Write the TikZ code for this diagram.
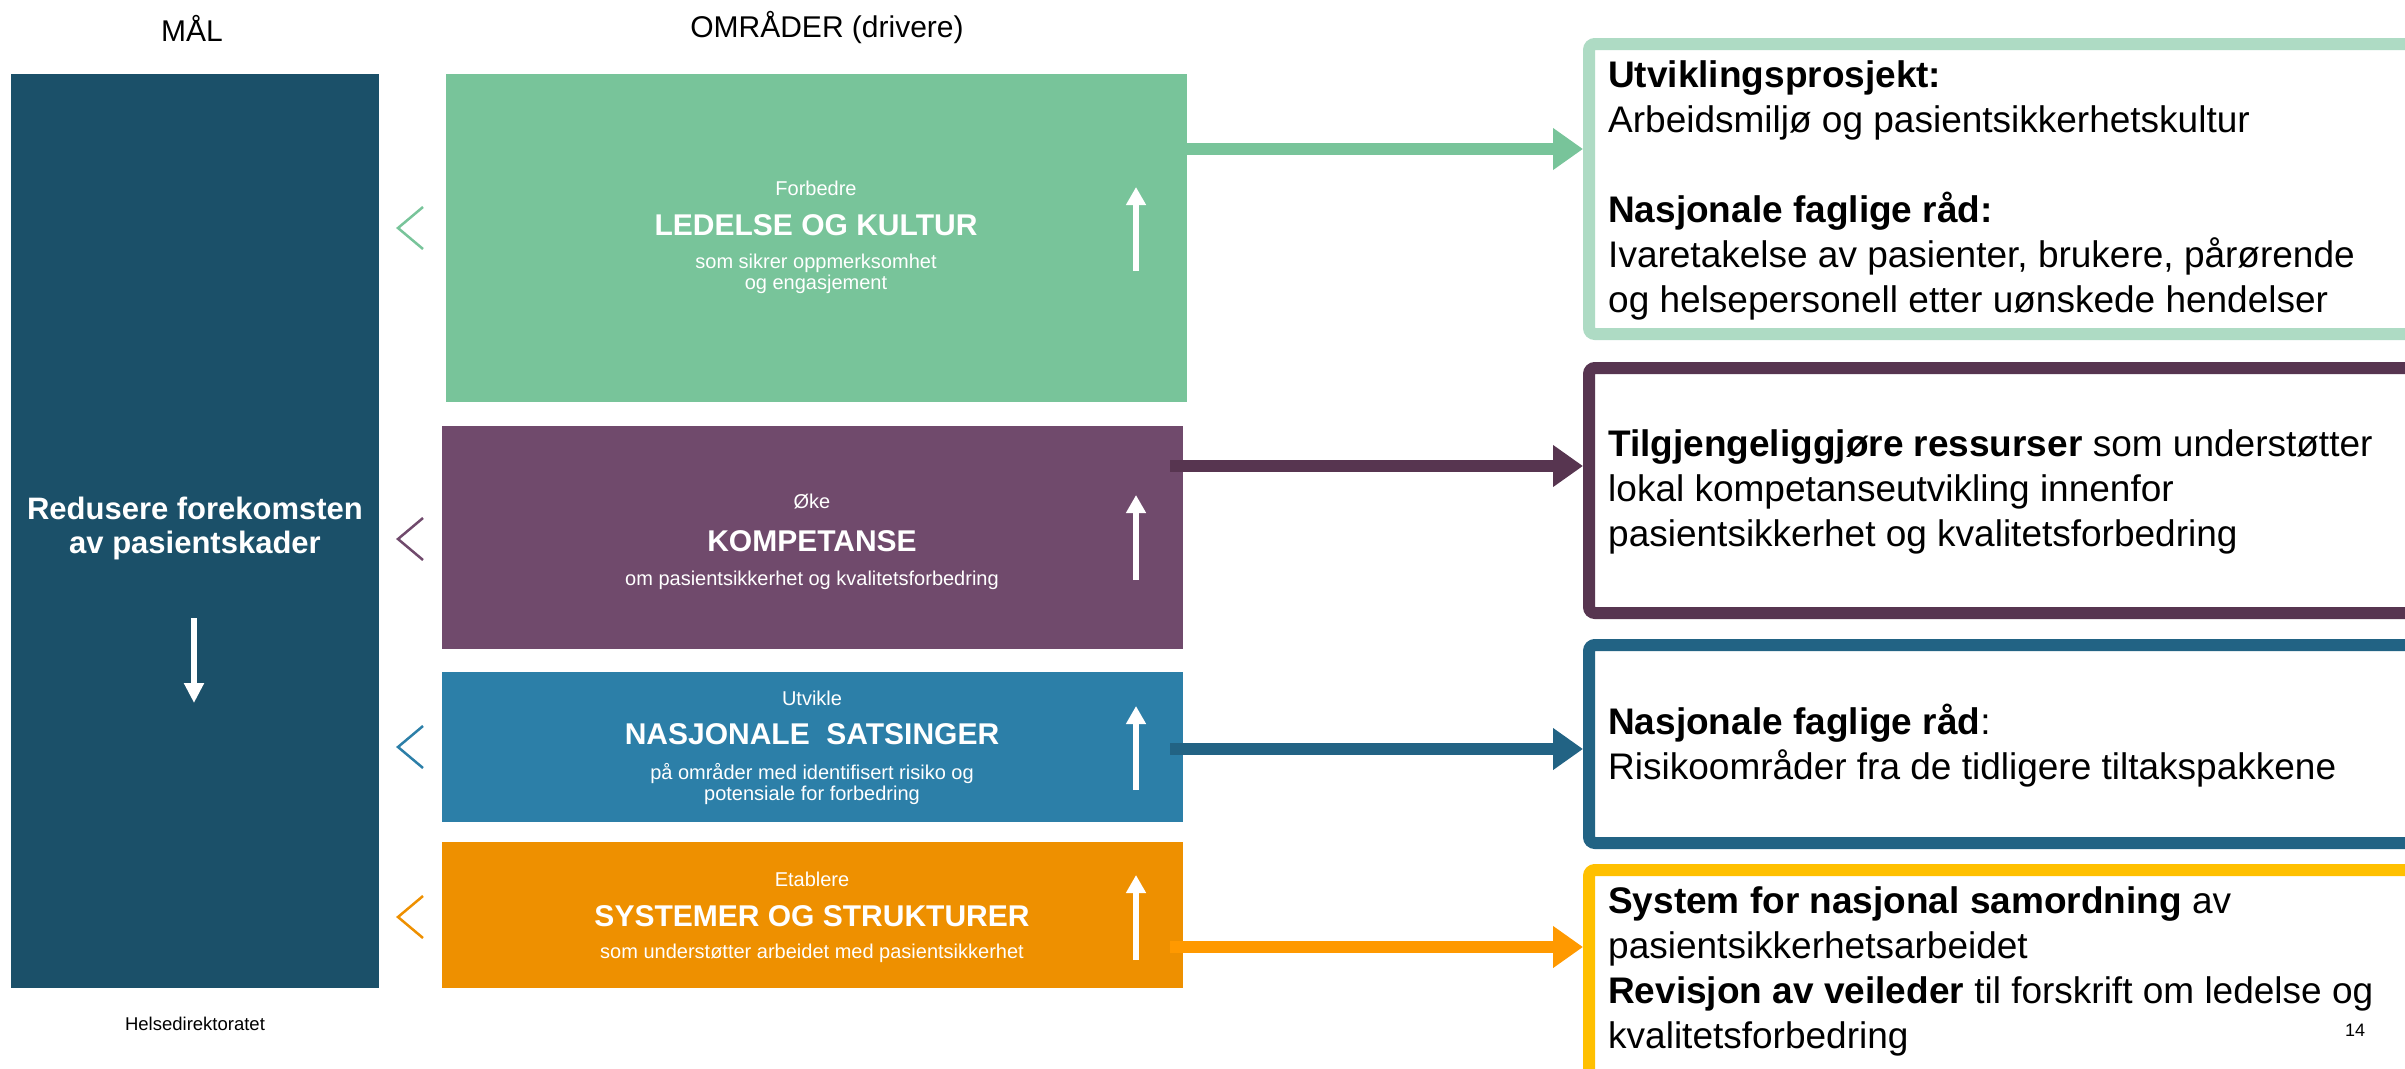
\documentclass[tikz,border=0pt]{standalone}
\usepackage{fontspec}
\setmainfont{Liberation Sans}
\usepackage{tikz}
\usetikzlibrary{arrows.meta,calc}

\definecolor{goalcol}{HTML}{1B5069}
\definecolor{leadcol}{HTML}{78C49A}
\definecolor{compcol}{HTML}{704A6C}
\definecolor{natcol}{HTML}{2C7FA8}
\definecolor{syscol}{HTML}{EE9000}
\definecolor{leadline}{HTML}{AEDBC4}
\definecolor{compline}{HTML}{573550}
\definecolor{natline}{HTML}{226384}
\definecolor{sysline}{HTML}{FFC000}
\definecolor{sysarrow}{HTML}{FF9900}

\tikzset{
  fillbox/.style={inner sep=0pt, outer sep=0pt, minimum width=741pt},
  outbox/.style={draw, line width=12pt, rounded corners=6pt, fill=white,
    inner sep=0pt, minimum width=825pt},
  linkarrow/.style={line width=12pt, -{Triangle[length=30pt,width=40pt]}},
  whitearrow/.style={white, line width=6pt, -{Triangle[length=18pt,width=19pt]}},
  chevron/.style={line width=2.5pt},
  verb/.style={white, font=\fontsize{20}{22}\selectfont},
  title/.style={white, font=\fontsize{30}{34}\selectfont\bfseries},
  sub/.style={white, align=center, font=\fontsize{20}{21}\selectfont},
  outtext/.style={anchor=west, align=left, inner sep=0pt, font=\fontsize{37}{45}\selectfont},
}

\begin{document}
\begin{tikzpicture}[x=1pt,y=-1pt]
\path[use as bounding box] (0,0) rectangle (2405,1068);
\clip (0,0) rectangle (2405,1068);

% Headings
\node[font=\fontsize{30}{34}\selectfont] (mal) at (192,28) {MÅL};
\node[font=\fontsize{30}{34}\selectfont] (omr) at (827,28) {OMRÅDER (drivere)};

% Goal
\node[fillbox, fill=goalcol, minimum width=368pt, minimum height=914pt] (goal) at (195,531) {};
\node[white, align=center, font=\fontsize{31}{34}\selectfont\bfseries] (goaltext) at (195,528)
  {Redusere forekomsten\\av pasientskader};
\draw[whitearrow, -{Triangle[length=20pt,width=19pt]}] (194,618) -- (194,703);
\node[font=\fontsize{18.5}{20}\selectfont] (foot) at (195,1024) {Helsedirektoratet};

% Drivers
\node[fillbox, fill=leadcol, minimum height=328pt] (lead) at (816.5,238) {};
\node[fillbox, fill=compcol, minimum height=223pt] (comp) at (812.5,537.5) {};
\node[fillbox, fill=natcol, minimum height=150pt] (nat) at (812.5,747) {};
\node[fillbox, fill=syscol, minimum height=146pt] (sys) at (812.5,915) {};

\node[verb] (leadverb) at (816,188) {Forbedre};
\node[title] (leadtitle) at (816,225) {LEDELSE OG KULTUR};
\node[sub] (leadsub) at (816,274) {som sikrer oppmerksomhet\\og engasjement};

\node[verb] (compverb) at (812,502) {Øke};
\node[title] (comptitle) at (812,541) {KOMPETANSE};
\node[sub] (compsub) at (812,580) {om pasientsikkerhet og kvalitetsforbedring};

\node[verb] (natverb) at (812,698) {Utvikle};
\node[title] (nattitle) at (812,734) {NASJONALE \ SATSINGER};
\node[sub] (natsub) at (812,784) {på områder med identifisert risiko og\\potensiale for forbedring};

\node[verb] (sysverb) at (812,879) {Etablere};
\node[title] (systitle) at (812,916) {SYSTEMER OG STRUKTURER};
\node[sub] (syssub) at (812,953) {som understøtter arbeidet med pasientsikkerhet};

% Up arrows
\draw[whitearrow] (1136,271) -- (1136,187);
\draw[whitearrow] (1136,580) -- (1136,495);
\draw[whitearrow] (1136,790) -- (1136,706);
\draw[whitearrow] (1136,960) -- (1136,875);

% Chevrons
\draw[chevron, leadcol] (423,207) -- (398,228) -- (423,249);
\draw[chevron, compcol] (423,518) -- (398,539) -- (423,560);
\draw[chevron, natcol] (423,726) -- (398,747) -- (423,768);
\draw[chevron, syscol] (423,896) -- (398,917) -- (423,938);

% Outcomes
\node[outbox, draw=leadline, minimum height=290pt] (leadout) at (2001.5,189) {};
\node[outbox, draw=compline, minimum height=245pt] (compout) at (2001.5,490.5) {};
\node[outbox, draw=natline, minimum height=198pt] (natout) at (2001.5,744) {};
\node[outbox, draw=sysline, minimum height=210pt] (sysout) at (2001.5,975) {};

\node[outtext] (leadouttext) at (1608,190)
  {\textbf{Utviklingsprosjekt:}\\Arbeidsmiljø og pasientsikkerhetskultur\\ \\
   \textbf{Nasjonale faglige råd:}\\Ivaretakelse av pasienter, brukere, pårørende\\
   og helsepersonell etter uønskede hendelser};
\node[outtext] (compouttext) at (1608,492)
  {\textbf{Tilgjengeliggjøre ressurser} som understøtter\\lokal kompetanseutvikling innenfor\\
   pasientsikkerhet og kvalitetsforbedring};
\node[outtext] (natouttext) at (1608,746)
  {\textbf{Nasjonale faglige råd}:\\Risikoområder fra de tidligere tiltakspakkene};
\node[outtext] (sysouttext) at (1608,971)
  {\textbf{System for nasjonal samordning} av\\pasientsikkerhetsarbeidet\\
   \textbf{Revisjon av veileder} til forskrift om ledelse og\\kvalitetsforbedring};

% Links
\draw[linkarrow, leadcol] (lead.east |- 0,149) -- (leadout.west |- 0,149);
\draw[linkarrow, compline] ($(comp.east |- 0,466)+(-13,0)$) -- (compout.west |- 0,466);
\draw[linkarrow, natline] ($(nat.east |- 0,749)+(-13,0)$) -- (natout.west |- 0,749);
\draw[linkarrow, sysarrow] ($(sys.east |- 0,947)+(-13,0)$) -- (sysout.west |- 0,947);

% Page number
\node[font=\fontsize{18}{20}\selectfont] (page) at (2355,1030) {14};

\end{tikzpicture}
\end{document}
